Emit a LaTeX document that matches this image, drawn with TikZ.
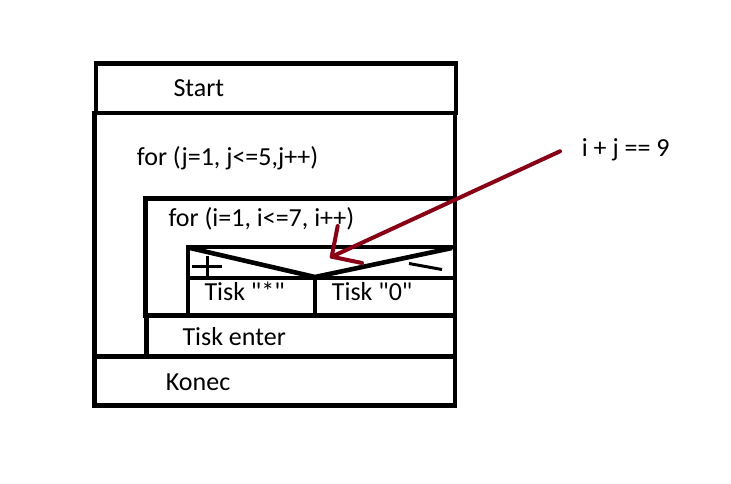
\documentclass[tikz,border=0pt]{standalone}
\usepackage{fontspec}
\setmainfont{Carlito}[Ligatures=TeXOff]
\usepackage{tikz}
\usetikzlibrary{positioning}
\definecolor{tmavecervena}{RGB}{136,0,21}
\tikzset{
    box/.style={ % ramecky diagramu
        draw,
        line width=4.6pt
    },
    popis/.style={ % texty v ramecku
        anchor=base west,
        inner sep=0pt,
        font=\fontsize{26}{31}\selectfont
    },
    rucne/.style={line width=3pt}, % rucne kreslene znaky
    sipka/.style={ % cervena sipka
        draw=tmavecervena,
        line width=4pt,
        line cap=round
    }
}

\begin{document}
\begin{tikzpicture}[x=1pt,y=-1pt]
        \useasboundingbox (0,0) rectangle (731,483);
        % ramecky
        \draw[box] (96,63.3)    rectangle (456,113);    % start
        \draw[box] (94.5,113)   rectangle (455,356.5);  % vnejsi for
        \draw[box] (145.5,198.3) rectangle (455,315.5); % vnitrni for
        \draw[box] (188,247)    rectangle (455,315.5);  % if
        \draw[box] (188,278) -- (455,278);
        \draw[box] (315,278) -- (315,315.5);
        \draw[box] (190,248) -- (315,277) -- (452,248);
        \draw[box] (146.5,315.5) rectangle (455,356.5); % tisk enter
        \draw[box] (94.5,356.5) rectangle (455,405.5);  % konec
        % texty
        \node[popis] (start)    at (173.3,96.7) {Start};
        \node[popis] (forj)     at (136.7,165)  {for (j=1, j<=5,j++)};
        \node[popis] (fori)     at (168.3,226.7) {for (i=1, i<=7, i++)};
        \node[popis] (tiskhv)   at (204.3,300)  {Tisk "*"};
        \node[popis] (tisknula) at (331.7,300)  {Tisk "0"};
        \node[popis] (enter)    at (182.3,345)  {Tisk enter};
        \node[popis] (konec)    at (165.7,390)  {Konec};
        \node[popis] (podminka) at (581.7,156)  {i + j == 9};
        % plus a minus
        \draw[rucne] (191.7,266.7) -- (222.3,266.7);
        \draw[rucne] (207.7,256) -- (207.7,277);
        \draw[rucne] (409,263.5) -- (442,269.5);
        % sipka
        \coordinate (hrot) at (331.7,256.7);
        \draw[sipka] ([xshift=-21.7pt,yshift=-2pt]podminka.west) -- (hrot);
        \draw[sipka] (hrot) -- ++(6,-30.7)
                     (hrot) -- ++(30.3,6.3);
        %\draw[step=10pt,gray,very thin] (0,0) grid (731,483);
\end{tikzpicture}
\end{document}
